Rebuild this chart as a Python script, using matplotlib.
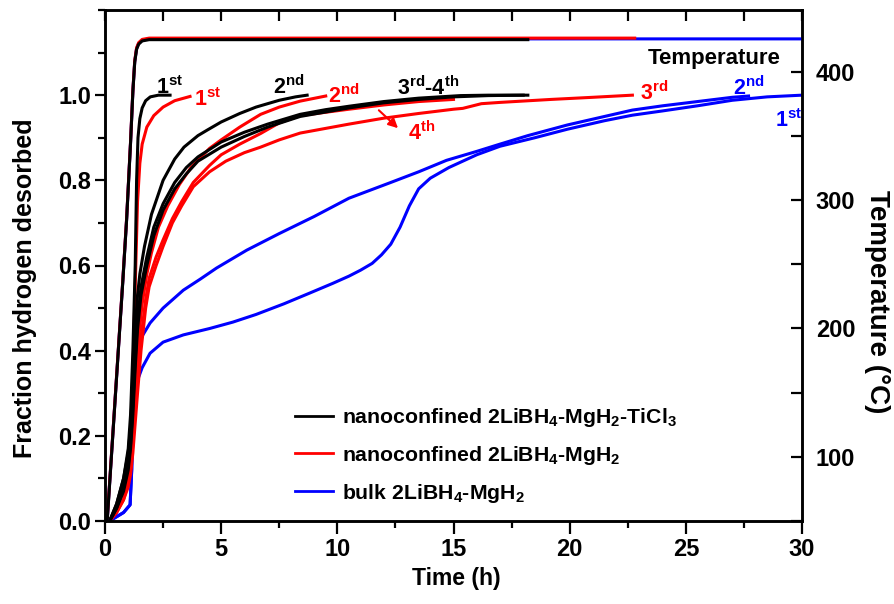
import matplotlib
matplotlib.use("Agg")
import matplotlib.pyplot as plt
from matplotlib.ticker import MultipleLocator

plt.rcParams['font.family'] = ['Liberation Sans', 'DejaVu Sans']
plt.rcParams['font.weight'] = 'bold'
plt.rcParams['mathtext.fontset'] = 'custom'
plt.rcParams['mathtext.rm'] = 'Liberation Sans:bold'
plt.rcParams['mathtext.bf'] = 'Liberation Sans:bold'
plt.rcParams['mathtext.it'] = 'Liberation Sans:bold'
plt.rcParams['mathtext.default'] = 'bf'

# ---------------- data ----------------
# Temperature programme (same ramp, different end times)
temp_t = [0, 0.1, 0.4, 0.77, 0.93, 1.1, 1.2, 1.28, 1.36, 1.45, 1.6, 1.9, 2.5]
temp_T = [50, 52, 135, 238, 285, 345, 385, 408, 418, 422, 424.5, 425.5, 425.5]
temp_end_black = 18.2
temp_end_red = 22.8
temp_end_blue = 30.0

# nanoconfined 2LiBH4-MgH2-TiCl3 (black)
blk1_t = [0.2, 0.5, 0.8, 1.0, 1.1, 1.2, 1.3, 1.36, 1.42, 1.5, 1.6, 1.75, 1.95, 2.3, 2.8]
blk1_y = [0, 0.04, 0.1, 0.17, 0.25, 0.4, 0.6, 0.8, 0.9, 0.945, 0.97, 0.987, 0.996, 1.0, 1.0]
blk2_t = [0.2, 0.5, 0.8, 1.0, 1.1, 1.2, 1.3, 1.4, 1.5, 1.7, 2.0, 2.5, 3.0, 3.4, 4.0, 4.4,
          5.0, 5.8, 6.5, 7.5, 8.2, 8.7]
blk2_y = [0, 0.04, 0.1, 0.16, 0.22, 0.33, 0.45, 0.53, 0.58, 0.645, 0.72, 0.80, 0.85, 0.878,
          0.905, 0.918, 0.937, 0.957, 0.972, 0.988, 0.996, 1.0]
blk3_t = [0.2, 0.5, 0.8, 1.0, 1.1, 1.2, 1.3, 1.4, 1.55, 1.8, 2.1, 2.5, 3.0, 3.5, 4.0, 5.0,
          6.0, 7.0, 8.4, 9.5, 10.5, 12.0, 13.5, 15.3, 16.5, 18.2]
blk3_y = [0, 0.03, 0.08, 0.13, 0.18, 0.27, 0.38, 0.47, 0.55, 0.62, 0.69, 0.745, 0.795, 0.83,
          0.855, 0.89, 0.913, 0.932, 0.955, 0.966, 0.974, 0.985, 0.993, 0.999, 1.0, 1.0]
blk4_t = [0.2, 0.5, 0.8, 1.0, 1.1, 1.2, 1.3, 1.4, 1.55, 1.8, 2.1, 2.5, 3.0, 3.5, 4.0, 5.0,
          6.0, 7.0, 8.4, 10.5, 12.0, 13.5, 15.0, 16.5, 18.0]
blk4_y = [0, 0.03, 0.07, 0.12, 0.17, 0.25, 0.36, 0.45, 0.53, 0.6, 0.67, 0.73, 0.78, 0.815,
          0.845, 0.878, 0.903, 0.925, 0.95, 0.97, 0.982, 0.99, 0.996, 0.999, 1.0]

# nanoconfined 2LiBH4-MgH2 (red)
red1_t = [0.2, 0.5, 0.8, 1.0, 1.1, 1.2, 1.3, 1.4, 1.5, 1.6, 1.8, 2.1, 2.5, 3.0, 3.66]
red1_y = [0, 0.03, 0.08, 0.13, 0.2, 0.35, 0.55, 0.75, 0.84, 0.885, 0.925, 0.952, 0.972, 0.987, 0.997]
red2_t = [0.2, 0.5, 0.8, 1.0, 1.1, 1.2, 1.3, 1.45, 1.6, 1.8, 2.0, 2.3, 2.7, 3.2, 3.7, 4.5,
          5.0, 5.8, 6.7, 7.5, 8.4, 9.5]
red2_y = [0, 0.03, 0.07, 0.11, 0.15, 0.22, 0.32, 0.43, 0.51, 0.58, 0.63, 0.69, 0.74, 0.79,
          0.83, 0.875, 0.895, 0.925, 0.955, 0.972, 0.986, 0.998]
red3_t = [0.2, 0.5, 0.8, 1.0, 1.1, 1.2, 1.3, 1.4, 1.55, 1.75, 1.9, 2.2, 2.5, 2.9, 3.3, 3.8,
          4.5, 5.2, 6.0, 6.7, 7.5, 8.4, 9.5, 10.5, 12.0, 13.5, 15.0, 15.4, 16.2, 17.0, 19.2,
          21.0, 22.7]
red3_y = [0, 0.02, 0.05, 0.08, 0.11, 0.16, 0.23, 0.3, 0.4, 0.5, 0.55, 0.6, 0.645, 0.7, 0.74,
          0.785, 0.82, 0.845, 0.865, 0.878, 0.895, 0.911, 0.922, 0.932, 0.946, 0.957, 0.967,
          0.969, 0.98, 0.983, 0.99, 0.995, 1.0]
red4_t = [0.2, 0.5, 0.8, 1.0, 1.1, 1.2, 1.3, 1.4, 1.55, 1.75, 1.9, 2.2, 2.5, 2.9, 3.3, 3.8,
          4.5, 5.0, 5.8, 6.7, 7.5, 8.4, 10.5, 12.0, 13.5, 15.0]
red4_y = [0, 0.02, 0.05, 0.09, 0.12, 0.18, 0.26, 0.34, 0.43, 0.52, 0.57, 0.62, 0.66, 0.71,
          0.75, 0.795, 0.835, 0.86, 0.885, 0.91, 0.935, 0.952, 0.967, 0.977, 0.985, 0.99]

# bulk 2LiBH4-MgH2 (blue)
blu1_t = [0.2, 0.5, 0.8, 1.08, 1.15, 1.2, 1.3, 1.43, 1.6, 1.94, 2.5, 3.37, 4.5, 5.5, 6.5,
          7.7, 8.8, 9.8, 10.5, 11.0, 11.5, 11.9, 12.3, 12.7, 13.1, 13.5, 14.0, 14.8, 16.0,
          17.0, 18.5, 19.9, 21.5, 22.7, 24.0, 25.5, 27.0, 28.5, 30.0]
blu1_y = [0, 0.01, 0.02, 0.038, 0.12, 0.25, 0.31, 0.335, 0.36, 0.394, 0.42, 0.437, 0.452,
          0.467, 0.485, 0.51, 0.535, 0.558, 0.575, 0.589, 0.605, 0.625, 0.65, 0.69, 0.74,
          0.78, 0.805, 0.83, 0.86, 0.88, 0.9, 0.92, 0.94, 0.953, 0.963, 0.975, 0.988, 0.996, 1.0]
blu2_t = [0.2, 0.5, 0.8, 1.08, 1.15, 1.2, 1.3, 1.37, 1.5, 1.94, 2.5, 3.37, 4.1, 4.8, 6.1,
          7.5, 9.0, 10.5, 12.3, 13.5, 14.7, 16.0, 17.0, 18.2, 19.9, 21.5, 22.7, 24.0, 25.5,
          27.0, 27.7]
blu2_y = [0, 0.01, 0.02, 0.038, 0.12, 0.25, 0.33, 0.40, 0.425, 0.465, 0.5, 0.542, 0.568,
          0.594, 0.636, 0.675, 0.715, 0.758, 0.795, 0.82, 0.847, 0.868, 0.885, 0.905, 0.93,
          0.95, 0.965, 0.975, 0.985, 0.995, 0.998]

legend_labels = [r"nanoconfined 2LiBH$_4$-MgH$_2$-TiCl$_3$",
                 r"nanoconfined 2LiBH$_4$-MgH$_2$",
                 r"bulk 2LiBH$_4$-MgH$_2$"]

BLACK, RED, BLUE = "#000000", "#ff0000", "#0000ff"

# ---------------- figure ----------------
W, H = 894, 604
fig = plt.figure(figsize=(W/100, H/100), dpi=100)
ax = fig.add_axes([105/W, 1-521/H, (802-105)/W, (521-10)/H])
ax2 = ax.twinx()

def temp_series(end):
    t = [v for v in temp_t if v < end] + [end]
    T = temp_T[:len(t) - 1] + [temp_T[-1]]
    return t, T

LW = 2.2
for end, c, off in [(temp_end_blue, BLUE, 0.0), (temp_end_red, RED, 0.6), (temp_end_black, BLACK, -0.6)]:
    t, T = temp_series(end)
    ax2.plot(t, [v + off for v in T], color=c, lw=LW)

for t, y in [(blu1_t, blu1_y), (blu2_t, blu2_y)]:
    ax.plot(t, y, color=BLUE, lw=LW)
for t, y in [(red1_t, red1_y), (red2_t, red2_y), (red3_t, red3_y), (red4_t, red4_y)]:
    ax.plot(t, y, color=RED, lw=LW)
for t, y in [(blk1_t, blk1_y), (blk2_t, blk2_y), (blk3_t, blk3_y), (blk4_t, blk4_y)]:
    ax.plot(t, y, color=BLACK, lw=LW)

ax.set_xlim(0, 30)
ax.set_ylim(0, 1.2)
ax2.set_ylim(50, 448)
ax.set_yticks([0, 0.2, 0.4, 0.6, 0.8, 1.0])
ax.set_yticklabels(["0.0", "0.2", "0.4", "0.6", "0.8", "1.0"])
ax.yaxis.set_minor_locator(MultipleLocator(0.1))
ax.set_xticks([0, 5, 10, 15, 20, 25, 30])
ax.set_xticklabels(["0", "5", "10", "15", "20", "25", "30"])
ax.xaxis.set_minor_locator(MultipleLocator(2.5))
ax2.set_yticks([100, 200, 300, 400])
ax2.yaxis.set_minor_locator(MultipleLocator(50))

for a in (ax, ax2):
    for s in ['left', 'right', 'top', 'bottom']:
        a.spines[s].set_linewidth(1.8)

FS_TICK = 17
ax.tick_params(axis='both', which='major', direction='out', length=7, width=1.6,
               labelsize=FS_TICK, top=False, right=False, pad=3)
ax.tick_params(axis='both', which='minor', direction='out', length=5, width=1.6,
               top=False, right=False)
ax.tick_params(axis='x', which='major', length=9)
ax2.tick_params(axis='y', which='both', direction='in', length=8, width=1.6,
                labelsize=FS_TICK, pad=10)

# top ticks (inward) every 2.5 h
axt = ax.twiny()
axt.set_xlim(0, 30)
axt.xaxis.set_major_locator(MultipleLocator(2.5))
axt.tick_params(axis='x', which='major', direction='in', length=8, width=1.6,
                labeltop=False, top=True)

fig.text(456/W, 1-578/H, "Time (h)", fontsize=16.5, fontweight='bold', ha='center', va='center')
fig.text(25/W, 1-288/H, "Fraction hydrogen desorbed", fontsize=18, fontweight='bold',
         rotation=90, ha='center', va='center')
fig.text(877/W, 1-302/H, "Temperature (\u00b0C)", fontsize=20, fontweight='bold',
         rotation=270, ha='center', va='center')

# annotations
FS_ANN = 15.5
ann = [
    (2.2, 1.002, r"$1^{st}$", BLACK),
    (3.83, 0.974, r"$1^{st}$", RED),
    (7.23, 1.002, r"$2^{nd}$", BLACK),
    (9.6, 0.981, r"$2^{nd}$", RED),
    (12.57, 1.0, r"$3^{rd}$-$4^{th}$", BLACK),
    (13.04, 0.894, r"$4^{th}$", RED),
    (23.03, 0.988, r"$3^{rd}$", RED),
    (27.03, 1.0, r"$2^{nd}$", BLUE),
    (28.84, 0.925, r"$1^{st}$", BLUE),
]
for x, y, s, c in ann:
    ax.text(x, y, s, color=c, fontsize=FS_ANN, ha='left', va='baseline')
ax.text(26.2, 1.073, "Temperature", color=BLACK, fontsize=16, fontweight='bold',
        ha='center', va='baseline')
ax.annotate("", xy=(12.7, 0.918), xytext=(11.7, 0.969),
            arrowprops=dict(arrowstyle='-|>', color=RED, lw=1.5, mutation_scale=14))

handles = [plt.Line2D([], [], color=c, lw=2) for c in (BLACK, RED, BLUE)]
leg = ax.legend(handles, legend_labels, loc='upper left',
                bbox_to_anchor=(295/W, 1 - 406/H), bbox_transform=fig.transFigure,
                frameon=False, fontsize=15.3, handlelength=1.8, handletextpad=0.42,
                labelspacing=0.7, borderpad=0, borderaxespad=0)

fig.savefig("out.png", dpi=100)
